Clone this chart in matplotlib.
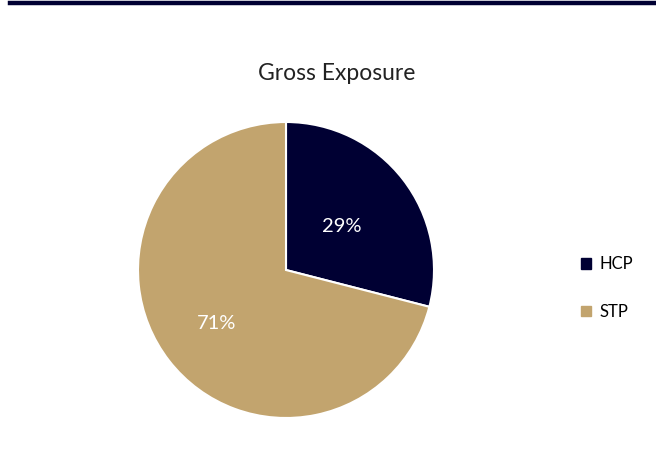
import numpy as np
import matplotlib.pyplot as plt
from matplotlib.lines import Line2D

labels = ['HCP', 'STP']
shares = [29, 71]
colors = ['#000033', '#C2A46E']

plt.rcParams['font.family'] = ['Lato', 'DejaVu Sans']

fig = plt.figure(figsize=(6.56, 4.73), dpi=100)

# top rule
fig.add_artist(Line2D([10 / 656, 1], [1 - 3 / 473, 1 - 3 / 473], color='#000033', lw=3.2,
                      transform=fig.transFigure))

ax = fig.add_axes([(286 - 148) / 656, (473 - 270 - 148) / 473, 296 / 656, 296 / 473])
wedges, texts, autotexts = ax.pie(shares, colors=colors, startangle=90, counterclock=False,
                                  autopct='%d%%', pctdistance=0.48,
                                  wedgeprops=dict(edgecolor='white', linewidth=1.5),
                                  textprops=dict(color='white', fontsize=14.5))
# excel puts the big slice label further out
x, y = autotexts[1].get_position()
autotexts[1].set_position((x * 1.23, y * 1.23))
ax.set_xlim(-1, 1)
ax.set_ylim(-1, 1)
ax.set_aspect('equal')

fig.text(337 / 656, 1 - 73 / 473, 'Gross Exposure', ha='center', va='center', fontsize=16.5, color='#222222')

handles = [plt.Rectangle((0, 0), 1, 1, color=c) for c in colors]
fig.legend(handles, labels, loc='center left', bbox_to_anchor=(566 / 656, 1 - 288 / 473),
           frameon=False, fontsize=12, handlelength=0.6, handleheight=0.6,
           handletextpad=0.5, labelspacing=1.9)

fig.savefig('out.png', dpi=100)
